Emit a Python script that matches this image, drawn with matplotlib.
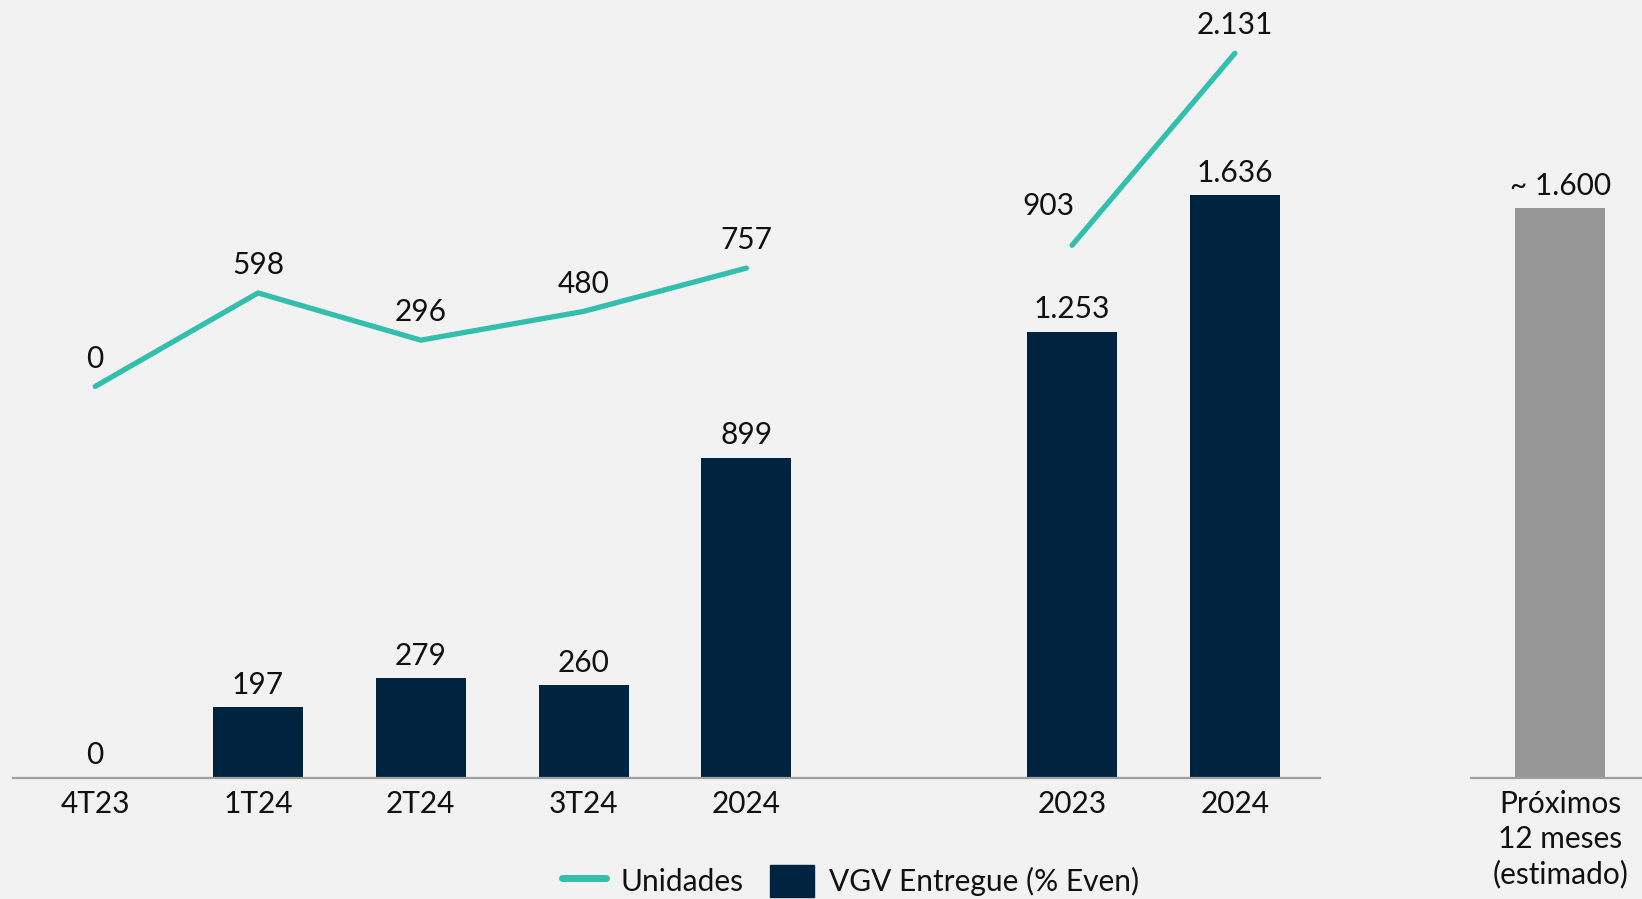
import matplotlib.pyplot as plt
from matplotlib.patches import Patch
from matplotlib.lines import Line2D

plt.rcParams['font.family'] = ['Lato', 'DejaVu Sans']

# dados
periodos = ['4T23', '1T24', '2T24', '3T24', '2024', '2023', '2024']
posicoes = [0, 1, 2, 3, 4, 6, 7]
vgv = [0, 197, 279, 260, 899, 1253, 1636]
unidades = [0, 598, 296, 480, 757, 903, 2131]
vgv_rotulos = ['0', '197', '279', '260', '899', '1.253', '1.636']
unid_rotulos = ['0', '598', '296', '480', '757', '903', '2.131']

proximo_rotulo = 'Próximos\n12 meses\n(estimado)'
proximo_valor = 1600

azul = '#00243f'
verde = '#33bfad'
cinza = '#969696'
fundo = '#f2f2f2'
texto = '#111111'
tam = 21.5
peso = 'normal'

fig = plt.figure(figsize=(16.42, 8.99), dpi=100, facecolor=fundo)
ax = fig.add_axes([0.0079, 0.1351, 0.7963, 0.8649])
ax.set_facecolor('none')
ax2 = ax.twinx()

ax.bar(posicoes, vgv, width=0.553, color=azul)
for x, v, r in zip(posicoes, vgv, vgv_rotulos):
    ax.annotate(r, (x, v), xytext=(0, 6), textcoords='offset points',
                ha='center', va='bottom', fontsize=tam, fontweight=peso, color=texto)

ax.set_xlim(-0.505, 7.526)
ax.set_ylim(0, 2185)
ax.set_xticks(posicoes)
ax.set_xticklabels(periodos, fontsize=tam, fontweight=peso, color=texto)
ax.tick_params(axis='x', length=0, pad=9)
ax.set_yticks([])
for s in ['top', 'right', 'left']:
    ax.spines[s].set_visible(False)
ax.spines['bottom'].set_color('#a0a0a0')
ax.spines['bottom'].set_linewidth(1.6)

# linha de unidades (dois trechos)
ax2.plot(posicoes[:5], unidades[:5], color=verde, lw=3.8, solid_capstyle='round')
ax2.plot(posicoes[5:], unidades[5:], color=verde, lw=3.8, solid_capstyle='round')
for i, (x, v, r) in enumerate(zip(posicoes, unidades, unid_rotulos)):
    off = (-17, 18) if i == 5 else (0, 10)
    ax2.annotate(r, (x, v), xytext=off, textcoords='offset points',
                 ha='center', va='bottom', fontsize=tam, fontweight=peso, color=texto)
ax2.set_ylim(-2502, 2472)
ax2.axis('off')

# painel da estimativa
ax3 = fig.add_axes([0.896, 0.1351, 0.104, 0.8649])
ax3.set_facecolor('none')
ax3.bar([0], [proximo_valor], width=0.553, color=cinza)
ax3.annotate('~ 1.600', (0, proximo_valor), xytext=(0, 6), textcoords='offset points',
             ha='center', va='bottom', fontsize=tam, fontweight=peso, color=texto)
ax3.set_xlim(-0.547, 0.502)
ax3.set_ylim(0, 2185)
ax3.set_xticks([0])
ax3.set_xticklabels([proximo_rotulo], fontsize=tam, fontweight=peso, color=texto,
                    linespacing=1.3)
ax3.tick_params(axis='x', length=0, pad=9)
ax3.set_yticks([])
for s in ['top', 'right', 'left']:
    ax3.spines[s].set_visible(False)
ax3.spines['bottom'].set_color('#a0a0a0')
ax3.spines['bottom'].set_linewidth(1.6)

handles = [Line2D([0], [0], color=verde, lw=5, solid_capstyle='round'),
           Patch(color=azul)]
leg = fig.legend(handles, ['Unidades', 'VGV Entregue (% Even)'], loc='center',
                 bbox_to_anchor=(0.518, 0.02), ncol=2, frameon=False,
                 prop={'size': tam, 'weight': peso}, handlelength=1.45,
                 handleheight=1.25, columnspacing=0.9, handletextpad=0.5)
for t in leg.get_texts():
    t.set_color(texto)

plt.savefig('out.png', facecolor=fundo)
